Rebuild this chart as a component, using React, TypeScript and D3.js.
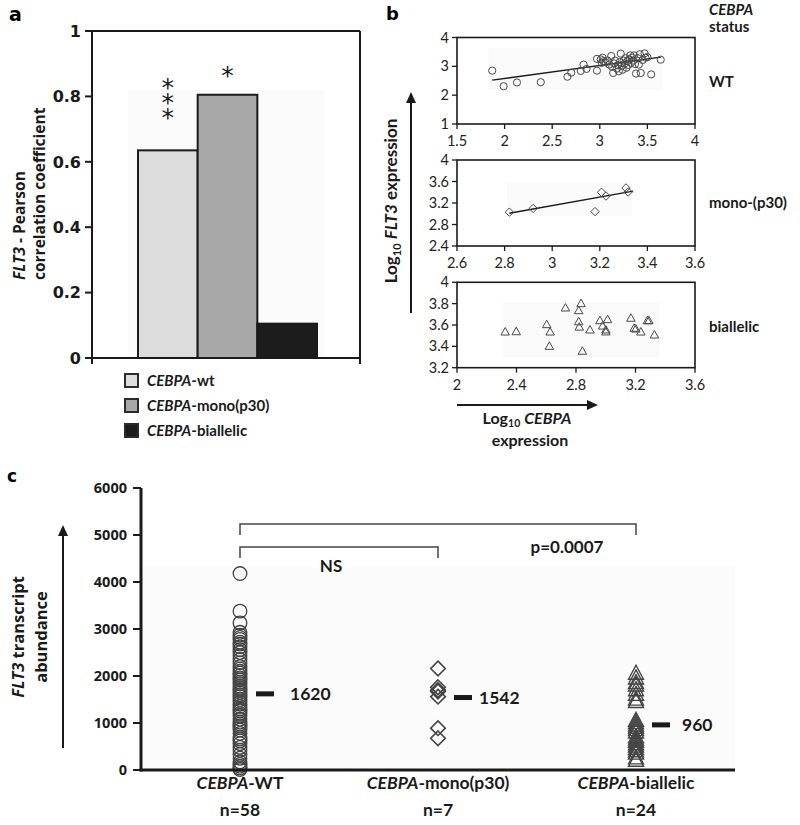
import React from "react";
import * as d3 from "d3";

// ---------- DATA ----------
// Panel a
const barCategories = ["wt", "mono(p30)", "biallelic"];
const barValues = [0.635, 0.805, 0.105];
const barColors = ["#dcdcdc", "#a8a8a8", "#1c1c1c"];
const barStars = ["***", "*", ""];
const barTicks = [0, 0.2, 0.4, 0.6, 0.8, 1];

// Panel b
const wtPoints: [number, number][] = [
  [1.87, 2.85], [1.99, 2.31], [2.13, 2.44], [2.38, 2.45], [2.66, 2.64], [2.7, 2.78],
  [2.8, 2.84], [2.83, 3.06], [2.86, 2.91], [2.97, 2.85], [2.97, 3.26], [3.01, 3.24],
  [3.02, 3.12], [3.03, 3.3], [3.04, 3.18], [3.06, 3.14], [3.08, 3.2], [3.1, 3.06],
  [3.12, 3.36], [3.13, 2.98], [3.14, 2.77], [3.15, 3.1], [3.16, 3.2], [3.18, 2.92],
  [3.19, 3.04], [3.2, 2.83], [3.21, 3.15], [3.22, 3.44], [3.23, 3.02], [3.24, 2.88],
  [3.25, 3.2], [3.26, 3.1], [3.27, 3.28], [3.28, 2.95], [3.29, 3.18], [3.3, 3.05],
  [3.31, 3.24], [3.32, 3.38], [3.33, 3.12], [3.34, 3.3], [3.35, 3.2], [3.36, 3.38],
  [3.37, 3.08], [3.38, 2.75], [3.4, 3.28], [3.41, 3.06], [3.42, 3.42], [3.43, 2.77],
  [3.45, 3.22], [3.47, 3.45], [3.48, 3.3], [3.5, 3.32], [3.54, 2.72], [3.64, 3.23],
];
const wtTrend: [number, number][] = [[1.87, 2.52], [3.64, 3.32]];
const monoPoints: [number, number][] = [
  [2.82, 3.03], [2.92, 3.1], [3.18, 3.04], [3.207, 3.4], [3.226, 3.33], [3.31, 3.48], [3.319, 3.405],
];
const monoTrend: [number, number][] = [[2.82, 3.01], [3.34, 3.42]];
const biPoints: [number, number][] = [
  [2.324, 3.534], [2.398, 3.537], [2.729, 3.759], [2.834, 3.8], [2.818, 3.734], [2.818, 3.63],
  [2.822, 3.58], [2.603, 3.603], [2.626, 3.534], [2.621, 3.4], [2.843, 3.354], [2.894, 3.553],
  [2.961, 3.64], [2.979, 3.59], [3.012, 3.65], [3.001, 3.553], [3.001, 3.535], [3.169, 3.663],
  [3.191, 3.569], [3.202, 3.562], [3.236, 3.534], [3.28, 3.64], [3.29, 3.64], [3.327, 3.506],
];
const wtXTicks = [1.5, 2, 2.5, 3, 3.5, 4];
const wtYTicks = [1, 2, 3, 4];
const monoXTicks = [2.6, 2.8, 3, 3.2, 3.4, 3.6];
const monoYTicks = [2.4, 2.8, 3.2, 3.6, 4];
const biXTicks = [2, 2.4, 2.8, 3.2, 3.6];
const biYTicks = [3.2, 3.4, 3.6, 3.8, 4];

// Panel c
const groupNames = ["WT", "mono(p30)", "biallelic"];
const groupN = [58, 7, 24];
const groupMeans = [1620, 1542, 960];
const wtAbundance = [
  4180, 3380, 3130, 2930, 2870, 2820, 2780, 2720, 2680, 2620, 2560, 2500, 2430, 2350, 2280,
  2200, 2150, 2100, 2060, 2010, 1960, 1920, 1870, 1830, 1780, 1740, 1700, 1650, 1600, 1560,
  1500, 1450, 1400, 1350, 1300, 1260, 1200, 1150, 1080, 1020, 980, 940, 900, 850, 780,
  700, 660, 620, 560, 480, 420, 330, 250, 170, 120, 80, 40, 10,
];
const monoAbundance = [2160, 1760, 1700, 1670, 1560, 890, 675];
const biAbundance = [
  2050, 1950, 1850, 1800, 1700, 1600, 1500, 1450, 1050, 1000, 950, 900, 850, 800, 700, 650,
  600, 550, 500, 450, 400, 350, 250, 200,
];
const abundanceTicks = [0, 1000, 2000, 3000, 4000, 5000, 6000];

// ---------- STYLE ----------
const CAL = "Lato, 'Open Sans', sans-serif";
const VER = "'DejaVu Sans', Verdana, sans-serif";
const OPS = "'Open Sans', 'DejaVu Sans', sans-serif";
const INK = "#1a1a1a";

const diamondPath = (s: number) => `M0,${-s}L${s},0L0,${s}L${-s},0Z`;
const trianglePath = (w: number, h: number) =>
  `M0,${-h * 0.6}L${w / 2},${h * 0.4}L${-w / 2},${h * 0.4}Z`;

function Arrow({ x1, y1, x2, y2, head = 11, width = 10 }: any) {
  const ang = Math.atan2(y2 - y1, x2 - x1);
  const bx = x2 - head * Math.cos(ang);
  const by = y2 - head * Math.sin(ang);
  const px = -Math.sin(ang) * (width / 2);
  const py = Math.cos(ang) * (width / 2);
  return (
    <g>
      <line x1={x1} y1={y1} x2={bx} y2={by} stroke={INK} strokeWidth={2} />
      <path d={`M${x2},${y2}L${bx + px},${by + py}L${bx - px},${by - py}Z`} fill={INK} />
    </g>
  );
}

function PanelA() {
  const x = d3.scaleBand<string>().domain(barCategories).range([138, 317]).padding(0);
  const y = d3.scaleLinear().domain([0, 1]).range([358, 31]);
  const left = 92, right = 360;
  const starGap = [24, 11, 0];
  return (
    <g>
      <text x={9} y={21} fontFamily={VER} fontWeight="bold" fontSize={19}>a</text>
      <rect x={128} y={90} width={197} height={268} fill="#fbfbfb" />
      {barCategories.map((c, i) => (
        <rect key={c} x={x(c)} y={y(barValues[i])} width={x.bandwidth()}
          height={y(0) - y(barValues[i])} fill={barColors[i]} stroke={INK} strokeWidth={2} />
      ))}
      {barCategories.map((c, i) => {
        const stars = barStars[i].split("");
        if (!stars.length) return null;
        const cx = (x(c) as number) + x.bandwidth() / 2;
        const y0 = y(barValues[i]) - starGap[i] - (stars.length - 1) * 15;
        return (
          <text key={c} textAnchor="middle" fontFamily={VER} fontSize={25} fill={INK}>
            {stars.map((s, j) => (
              <tspan key={j} x={cx} y={y0 + j * 15}>{s}</tspan>
            ))}
          </text>
        );
      })}
      {/* frame */}
      <line x1={left} y1={y(1)} x2={right} y2={y(1)} stroke={INK} strokeWidth={2} />
      <line x1={right} y1={y(1)} x2={right} y2={y(0) + 6} stroke={INK} strokeWidth={2} />
      <line x1={left} y1={y(1)} x2={left} y2={y(0) + 6} stroke={INK} strokeWidth={2} />
      <line x1={left} y1={y(0)} x2={right} y2={y(0)} stroke={INK} strokeWidth={2} />
      {barTicks.map((t) => (
        <g key={t}>
          <line x1={left - 7} x2={left} y1={y(t)} y2={y(t)} stroke={INK} strokeWidth={2} />
          <text x={left - 11} y={y(t)} dy="0.36em" textAnchor="end" fontFamily={VER}
            fontWeight="bold" fontSize={16} fill={INK}>{String(t)}</text>
        </g>
      ))}
      <g fontFamily={OPS} fontWeight="bold" fontSize={15.5} fill={INK}>
        <text transform="translate(25,280) rotate(-90)" textAnchor="start">
          <tspan fontStyle="italic">FLT3</tspan> - Pearson
        </text>
        <text transform="translate(45,280) rotate(-90)" textAnchor="start">correlation coefficient</text>
      </g>
      {barCategories.map((c, i) => (
        <g key={c}>
          <rect x={125} y={374 + i * 25} width={13} height={13} fill={barColors[i]}
            stroke="#2a2a2a" strokeWidth={2} />
          <text x={147} y={386 + i * 25} fontFamily={CAL} fontWeight="bold" fontSize={15} fill={INK}>
            <tspan fontStyle="italic">CEBPA</tspan>-{c}
          </text>
        </g>
      ))}
    </g>
  );
}

function Scatter({ pts, xd, yd, yr, xt, yt, shape, trend, bg }: any) {
  const x = d3.scaleLinear().domain(xd).range([457, 695]);
  const y = d3.scaleLinear().domain(yd).range(yr);
  const line = d3.line<[number, number]>().x((d) => x(d[0])).y((d) => y(d[1]));
  const mark = (d: [number, number], i: number) => {
    const cx = x(d[0]), cy = y(d[1]);
    if (shape === "circle")
      return <circle key={i} cx={cx} cy={cy} r={3.6} fill="none" stroke="#4a4a4a" strokeWidth={1} />;
    if (shape === "diamond")
      return <path key={i} d={diamondPath(4.2)} transform={`translate(${cx},${cy})`} fill="none" stroke="#4a4a4a" strokeWidth={1} />;
    return <path key={i} d={trianglePath(8.5, 7.5)} transform={`translate(${cx},${cy})`} fill="none" stroke="#4a4a4a" strokeWidth={1} />;
  };
  return (
    <g>
      <rect x={x(bg[0])} y={y(bg[2])} width={x(bg[1]) - x(bg[0])} height={y(bg[3]) - y(bg[2])} fill="#fafafa" />
      <rect x={457} y={yr[1]} width={238} height={yr[0] - yr[1]} fill="none" stroke={INK} strokeWidth={1.6} />
      {yt.map((t: number) => (
        <g key={"y" + t}>
          <line x1={452} x2={457} y1={y(t)} y2={y(t)} stroke={INK} strokeWidth={1.3} />
          <text x={449} y={y(t)} dy="0.35em" textAnchor="end" fontFamily={CAL} fontSize={14.5} fill="#222">{String(t)}</text>
        </g>
      ))}
      {xt.map((t: number) => (
        <g key={"x" + t}>
          <line x1={x(t)} x2={x(t)} y1={yr[0]} y2={yr[0] + 5} stroke={INK} strokeWidth={1.3} />
          <text x={x(t)} y={yr[0] + 22} textAnchor="middle" fontFamily={CAL} fontSize={14.5} fill="#222">{String(t)}</text>
        </g>
      ))}
      {trend && <path d={line(trend) as string} fill="none" stroke={INK} strokeWidth={1.4} />}
      {pts.map(mark)}
    </g>
  );
}

function PanelB() {
  return (
    <g>
      <text x={386} y={20} fontFamily={VER} fontWeight="bold" fontSize={18}>b</text>
      <g fontFamily={CAL} fontWeight="bold" fontSize={15} fill={INK}>
        <text x={709} y={15} fontStyle="italic">CEBPA</text>
        <text x={709} y={32}>status</text>
        <text x={709} y={87}>WT</text>
        <text x={709} y={208}>mono-(p30)</text>
        <text x={709} y={332}>biallelic</text>
      </g>
      <Scatter pts={wtPoints} xd={[1.5, 4]} yd={[1, 4]} yr={[124, 37.5]} xt={wtXTicks} yt={wtYTicks}
        shape="circle" trend={wtTrend} bg={[1.83, 3.66, 3.64, 2.18]} />
      <Scatter pts={monoPoints} xd={[2.6, 3.6]} yd={[2.4, 4]} yr={[246, 160]} xt={monoXTicks} yt={monoYTicks}
        shape="diamond" trend={monoTrend} bg={[2.81, 3.335, 3.57, 2.96]} />
      <Scatter pts={biPoints} xd={[2, 3.6]} yd={[3.2, 4]} yr={[367.7, 282.3]} xt={biXTicks} yt={biYTicks}
        shape="triangle" trend={null} bg={[2.31, 3.36, 3.815, 3.3]} />
      <Arrow x1={411} y1={313} x2={411} y2={92} />
      <Arrow x1={457} y1={405} x2={598} y2={405} />
      <g fontFamily={CAL} fontWeight="bold" fontSize={17} fill={INK}>
        <text transform="translate(397,201) rotate(-90)" textAnchor="middle">
          Log<tspan fontSize={11} dy={4}>10</tspan><tspan dy={-4}> </tspan>
          <tspan fontStyle="italic">FLT3</tspan> expression
        </text>
      </g>
      <g fontFamily={CAL} fontWeight="bold" fontSize={16} fill={INK}>
        <text x={527} y={424} textAnchor="middle">
          Log<tspan fontSize={10.5} dy={3}>10</tspan><tspan dy={-3}> </tspan>
          <tspan fontStyle="italic">CEBPA</tspan>
        </text>
        <text x={530} y={446} textAnchor="middle">expression</text>
      </g>
    </g>
  );
}

function PanelC() {
  const x = d3.scaleBand<string>().domain(groupNames).range([141, 735]);
  const y = d3.scaleLinear().domain([0, 6000]).range([770, 488]);
  const cx = (i: number) => (x(groupNames[i]) as number) + x.bandwidth() / 2;
  const labelOff = [50, 41, 46];
  const stroke = "#444";
  return (
    <g>
      <text x={7} y={482} fontFamily={VER} fontWeight="bold" fontSize={17}>c</text>
      <rect x={143} y={567} width={592} height={203} fill="#fbfbfb" />
      {/* brackets */}
      <path d={`M${cx(0)},535V524H${cx(2)}V535`} fill="none" stroke={stroke} strokeWidth={1.5} />
      <path d={`M${cx(0)},558V547H${cx(1)}V558`} fill="none" stroke={stroke} strokeWidth={1.5} />
      <text x={331} y={572} textAnchor="middle" fontFamily={CAL} fontWeight="bold" fontSize={17} fill={INK}>NS</text>
      <text x={567} y={553} textAnchor="middle" fontFamily={CAL} fontWeight="bold" fontSize={17} fill={INK}>p=0.0007</text>
      {/* points */}
      {wtAbundance.map((v, i) => (
        <circle key={"w" + i} cx={cx(0)} cy={y(v)} r={6.8} fill="none" stroke={stroke} strokeWidth={1.3} />
      ))}
      {monoAbundance.map((v, i) => (
        <path key={"m" + i} d={diamondPath(7.3)} transform={`translate(${cx(1)},${y(v)})`} fill="none" stroke={stroke} strokeWidth={1.6} />
      ))}
      {biAbundance.map((v, i) => (
        <path key={"b" + i} d={trianglePath(15, 14)} transform={`translate(${cx(2)},${y(v)})`} fill="none" stroke={stroke} strokeWidth={1.4} />
      ))}
      {/* means */}
      {groupMeans.map((m, i) => (
        <g key={"mean" + i}>
          <rect x={cx(i) + 16} y={y(m) - 2.5} width={18} height={5} fill={INK} />
          <text x={cx(i) + labelOff[i]} y={y(m)} dy="0.35em" fontFamily={CAL} fontWeight="bold" fontSize={17.5} fill={INK}>{m}</text>
        </g>
      ))}
      {/* axes */}
      <line x1={141} y1={y(6000)} x2={141} y2={771.5} stroke={INK} strokeWidth={3} />
      <line x1={139.5} y1={770} x2={735} y2={770} stroke={INK} strokeWidth={3} />
      {abundanceTicks.map((t) => (
        <g key={t}>
          <line x1={133} x2={141} y1={y(t)} y2={y(t)} stroke={INK} strokeWidth={2} />
          <text x={127} y={y(t)} dy="0.36em" textAnchor="end" fontFamily={OPS} fontWeight="bold" fontSize={14.5} fill={INK}>{t}</text>
        </g>
      ))}
      {groupNames.map((g, i) => (
        <g key={g} fontFamily={CAL} fontWeight="bold" fontSize={17.5} fill={INK} textAnchor="middle">
          <text x={cx(i)} y={789}><tspan fontStyle="italic">CEBPA</tspan>-{g}</text>
          <text x={cx(i)} y={816}>n={groupN[i]}</text>
        </g>
      ))}
      <Arrow x1={63} y1={748} x2={63} y2={525} />
      <g fontFamily={OPS} fontWeight="bold" fontSize={16.5} fill={INK}>
        <text transform="translate(24,637) rotate(-90)" textAnchor="middle">
          <tspan fontStyle="italic">FLT3</tspan> transcript
        </text>
        <text transform="translate(47,637) rotate(-90)" textAnchor="middle">abundance</text>
      </g>
    </g>
  );
}

export default function App() {
  return (
    <svg width={800} height={825} viewBox="0 0 800 825"
      style={{ position: "absolute", left: 0, top: 0, background: "#fff", display: "block" }}>
      <rect width={800} height={825} fill="#fff" />
      <PanelA />
      <PanelB />
      <PanelC />
    </svg>
  );
}
